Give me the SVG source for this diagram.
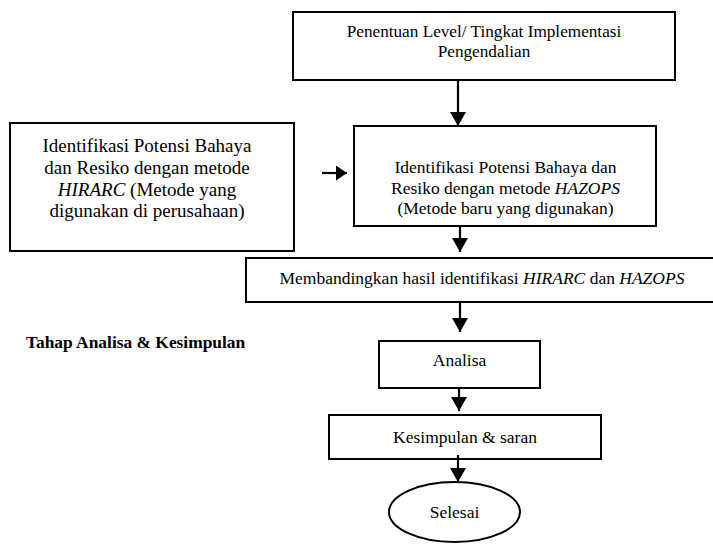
<svg xmlns="http://www.w3.org/2000/svg" width="713" height="544" viewBox="0 0 713 544">
<style>
.box{fill:#fff;stroke:#000;stroke-width:2}
.t{font-family:"Liberation Serif","Times New Roman",serif;font-size:17.5px;fill:#000;text-anchor:middle}
.tl{font-family:"Liberation Serif","Times New Roman",serif;font-size:19px;fill:#000;text-anchor:middle}
.b{font-family:"Liberation Serif","Times New Roman",serif;font-size:17.4px;font-weight:bold;fill:#000}
.c{stroke:#000;stroke-width:2.2;fill:none}
</style>
<defs>
<marker id="ah" markerUnits="userSpaceOnUse" markerWidth="14" markerHeight="16" refX="14" refY="8" orient="auto">
<path d="M0,0 L14,8 L0,16 z" fill="#000"/>
</marker>
<marker id="ahs" markerUnits="userSpaceOnUse" markerWidth="11" markerHeight="15" refX="11" refY="7.5" orient="auto">
<path d="M0,0 L11,7.5 L0,15 z" fill="#000"/>
</marker>
</defs>
<rect width="713" height="544" fill="#fff"/>
<g id="n-penentuan">
<rect class="box" x="293" y="12" width="382" height="68"/>
<text class="t" x="484" y="37" style="font-size:17.2px">Penentuan Level/ Tingkat Implementasi</text>
<text class="t" x="484" y="56.5" style="font-size:17.2px">Pengendalian</text>
</g>
<g id="n-hirarc">
<rect class="box" x="10" y="123" width="284" height="128"/>
<text class="tl" x="147" y="152">Identifikasi Potensi Bahaya</text>
<text class="tl" x="147" y="174">dan Resiko dengan metode</text>
<text class="tl" x="147" y="196"><tspan font-style="italic">HIRARC</tspan> (Metode yang</text>
<text class="tl" x="147" y="217">digunakan di perusahaan)</text>
</g>
<g id="n-hazops">
<rect class="box" x="354" y="126" width="302" height="100"/>
<text class="t" x="505.5" y="173">Identifikasi Potensi Bahaya dan</text>
<text class="t" x="505.5" y="194">Resiko dengan metode <tspan font-style="italic">HAZOPS</tspan></text>
<text class="t" x="505.5" y="214">(Metode baru yang digunakan)</text>
</g>
<g id="n-membandingkan">
<rect class="box" x="246" y="258" width="480" height="44"/>
<text class="t" x="482" y="284">Membandingkan hasil identifikasi <tspan font-style="italic">HIRARC</tspan> dan <tspan font-style="italic">HAZOPS</tspan></text>
</g>
<g id="n-label">
<text class="b" x="26" y="348">Tahap Analisa &amp; Kesimpulan</text>
</g>
<g id="n-analisa">
<rect class="box" x="379" y="341" width="161" height="47"/>
<text class="t" x="459.5" y="366">Analisa</text>
</g>
<g id="n-kesimpulan">
<rect class="box" x="329" y="415" width="272" height="44"/>
<text class="t" x="465" y="442.5">Kesimpulan &amp; saran</text>
</g>
<g id="n-selesai">
<ellipse class="box" cx="454.5" cy="512" rx="65.5" ry="30"/>
<text class="t" x="454.5" y="517.5">Selesai</text>
</g>
<g id="connectors">
<line class="c" x1="458" y1="80" x2="458" y2="126" marker-end="url(#ah)"/>
<line class="c" x1="322" y1="173" x2="347" y2="173" marker-end="url(#ahs)"/>
<line class="c" x1="460" y1="226" x2="460" y2="252" marker-end="url(#ah)"/>
<line class="c" x1="460" y1="302" x2="460" y2="332" marker-end="url(#ah)"/>
<line class="c" x1="459" y1="388" x2="459" y2="411" marker-end="url(#ah)"/>
<line class="c" x1="458" y1="455" x2="458" y2="482" marker-end="url(#ah)"/>
</g>
</svg>
